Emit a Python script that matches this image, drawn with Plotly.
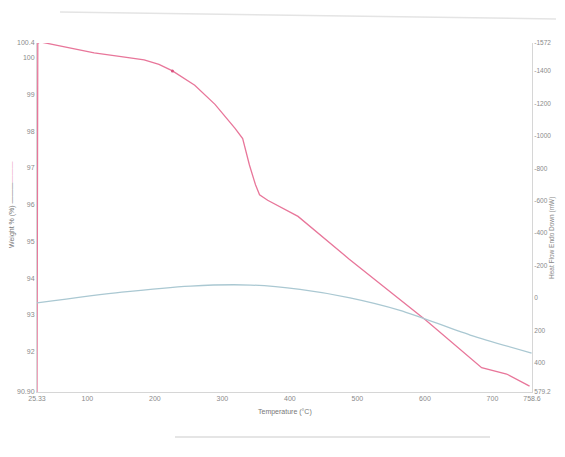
import plotly.graph_objects as go

# Weight % curve (TGA)
temp_w = [25.33, 26.5, 30, 70, 110, 150, 184, 206, 226, 259, 289, 319, 330, 340, 349, 355, 367, 412, 487, 601, 684, 721, 755]
weight = [90.9, 100.39, 100.43, 100.28, 100.13, 100.03, 99.94, 99.82, 99.64, 99.25, 98.73, 98.07, 97.8, 97.08, 96.54, 96.27, 96.12, 95.68, 94.53, 92.86, 91.56, 91.39, 91.06]

# Heat flow curve (DSC)
temp_h = [25.4, 151, 253, 342, 415, 489, 563, 667, 758]
heat = [30, -36, -74, -80, -53, -1, 76, 228, 339]

x_ticks = [25.33, 100, 200, 300, 400, 500, 600, 700, 758.6]
x_labels = ["25.33", "100", "200", "300", "400", "500", "600", "700", "758.6"]
w_ticks = [90.9, 92, 93, 94, 95, 96, 97, 98, 99, 100, 100.4]
w_labels = ["90.90", "92", "93", "94", "95", "96", "97", "98", "99", "100", "100.4"]
h_ticks = [-1572, -1400, -1200, -1000, -800, -600, -400, -200, 0, 200, 400, 579.2]
h_labels = ["-1572", "-1400", "-1200", "-1000", "-800", "-600", "-400", "-200", "0", "200", "400", "579.2"]

PINK = "#e8769a"
BLUE = "#aac8d2"
TICKC = "#8a8a8a"
FONT = "Liberation Sans"

# page offset (body margin) is 8px; keep figure inside the viewport (no scrollbars)
OFF = 8
W, H = 565 - 2 * OFF, 457 - 2 * OFF
PLOT_L, PLOT_R, PLOT_T, PLOT_B = 37, 532, 43, 392   # screenshot pixels
L = PLOT_L - OFF
R = OFF + W - PLOT_R
T = PLOT_T - OFF
B = OFF + H - PLOT_B

fig = go.Figure()
fig.add_trace(go.Scatter(x=temp_w, y=weight, mode="lines",
                         line=dict(color=PINK, width=1.3), yaxis="y", showlegend=False,
                         hoverinfo="skip"))
fig.add_trace(go.Scatter(x=[temp_w[8]], y=[weight[8]], mode="markers",
                         marker=dict(color="#d9507e", size=3), yaxis="y", showlegend=False,
                         hoverinfo="skip"))
fig.add_trace(go.Scatter(x=temp_h, y=heat, mode="lines",
                         line=dict(color=BLUE, width=1.3, shape="spline", smoothing=0.8),
                         yaxis="y2", showlegend=False, hoverinfo="skip"))

axis_common = dict(showgrid=False, zeroline=False, showline=True, linecolor="#d6d6d6",
                   linewidth=1, ticks="")

pw = PLOT_R - PLOT_L
ph = PLOT_B - PLOT_T
def px_to_paper(px, py):
    # px, py are screenshot pixel coordinates
    return (px - PLOT_L) / pw, (PLOT_B - py) / ph

fig.update_layout(
    width=W, height=H,
    margin=dict(l=L, r=R, t=T, b=B),
    paper_bgcolor="white", plot_bgcolor="white",
    font=dict(family=FONT, color=TICKC),
    xaxis=dict(range=[25.33, 758.6], tickmode="array", tickvals=x_ticks, ticktext=x_labels,
               automargin=False, tickfont=dict(size=7, color=TICKC, family=FONT), **axis_common),
    yaxis=dict(range=[90.9, 100.4], tickmode="array", tickvals=w_ticks, ticktext=w_labels,
               automargin=False, tickfont=dict(size=7, color=TICKC, family=FONT), **axis_common),
    yaxis2=dict(range=[579.2, -1572], tickmode="array", tickvals=h_ticks, ticktext=h_labels,
                overlaying="y", side="right", automargin=False,
                tickfont=dict(size=6.5, color=TICKC, family=FONT), **axis_common),
)

ann = [
    ("Temperature (°C)", 285, 412, 0, "#777", 7),
    ("Weight % (%) ———<span style='color:#eaa2bb'>———</span>", 12, 205, -90, "#777", 7),
    ("Heat Flow Endo Down (mW)", 552, 238, -90, "#888", 6.5),
]
for text, px, py, ang, col, fs in ann:
    x, y = px_to_paper(px, py)
    fig.add_annotation(text=text, x=x, y=y, xref="paper", yref="paper", showarrow=False,
                       xanchor="center", yanchor="middle",
                       textangle=ang, font=dict(size=fs, color=col, family=FONT))

# faint page/scan lines
for (x0p, y0p, x1p, y1p, col) in [(60, 12, 556, 19, "#e4e4e4"), (175, 437, 490, 437, "#dcdcdc")]:
    x0, y0 = px_to_paper(x0p, y0p)
    x1, y1 = px_to_paper(x1p, y1p)
    fig.add_shape(type="line", xref="paper", yref="paper", x0=x0, y0=y0, x1=x1, y1=y1,
                  line=dict(color=col, width=1.5))

fig.write_html("out.html")
